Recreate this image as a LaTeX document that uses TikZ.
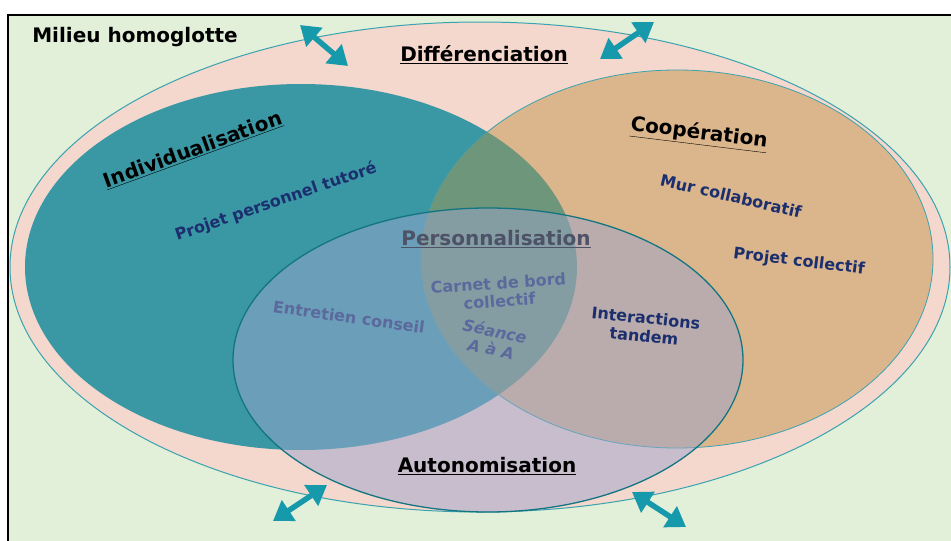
\documentclass[tikz,border=0pt]{standalone}
\usepackage{fontspec}
\setmainfont{DejaVu Sans}
\usetikzlibrary{arrows.meta}
\definecolor{milieu}{HTML}{E2EFD9}
\definecolor{pinkfill}{HTML}{F4D7CD}
\definecolor{tealfill}{HTML}{3A98A5}
\definecolor{orangefill}{HTML}{DBB68C}
\definecolor{overlapfill}{HTML}{6E967A}
\definecolor{lavfill}{RGB}{155,164,205}
\definecolor{rimteal}{HTML}{3AA3B0}
\definecolor{darkrim}{HTML}{137581}
\definecolor{arrowteal}{HTML}{1699AA}
\definecolor{navytext}{HTML}{1B2F6E}
\tikzset{
  heading/.style={font=\bfseries\fontsize{20}{24}\selectfont, inner sep=0pt},
  item/.style={font=\bfseries\fontsize{16}{18}\selectfont, text=navytext, align=center, inner sep=0pt},
  twoway/.style={{Triangle[length=19pt,width=24pt]}-{Triangle[length=19pt,width=24pt]}, line width=5.5pt, draw=arrowteal},
}
\begin{document}
\begin{tikzpicture}[x=1pt,y=-1pt]
\clip (0,0) rectangle (951,541);
\draw[line width=1.5pt, fill=milieu] (8,15) rectangle (980,580);

% differenciation
\draw[fill=pinkfill, draw=rimteal, line width=1pt] (480,267) ellipse [x radius=470pt, y radius=245pt];
% individualisation, cooperation
\fill[tealfill] (301,267) ellipse [x radius=276pt, y radius=183pt];
\draw[fill=orangefill, draw=rimteal, line width=0.8pt] (677,259) ellipse [x radius=256pt, y radius=189pt];
\begin{scope}
\clip (301,267) ellipse [x radius=276pt, y radius=183pt];
\fill[overlapfill] (677,259) ellipse [x radius=256pt, y radius=189pt];
\end{scope}

\node[heading] (milieu) at (135,37) {Milieu homoglotte};
\node[heading] (diff) at (484,55) {\underline{Différenciation}};
\node[heading, rotate=20] (indiv) at (193,150) {\underline{Individualisation}};
\node[item, rotate=19] (ppt) at (276,202) {Projet personnel tutoré};
\node[heading, rotate=-7] (coop) at (699,134) {\underline{Coopération}};
\node[item, rotate=-13] (mur) at (731,196) {Mur collaboratif};
\node[item, rotate=-7] (pcoll) at (799,262) {Projet collectif};

% texts under the autonomisation veil
\node[heading, text=black] (perso) at (496,239) {\underline{Personnalisation}};
\node[item, rotate=4] (carnet) at (499,292) {Carnet de bord\\collectif};
\node[item, rotate=-12, font=\bfseries\itshape\fontsize{16}{18}\selectfont] (seance) at (493,340) {Séance\\A à A};
\node[item, rotate=-8] (entretien) at (349,317) {Entretien conseil};

% autonomisation
\fill[lavfill, opacity=0.5] (488,360) ellipse [x radius=255pt, y radius=152pt];
\draw[darkrim, line width=1.3pt] (488,360) ellipse [x radius=255pt, y radius=152pt];

\node[item, rotate=-6] (tandem) at (645,327) {Interactions\\tandem};
\node[heading] (auto) at (487,466) {\underline{Autonomisation}};

% two-way arrows
\coordinate (a1) at (300,25);
\coordinate (b1) at (348,66);
\coordinate (a2) at (600,59);
\coordinate (b2) at (654,22);
\coordinate (a3) at (273,521);
\coordinate (b3) at (327,485);
\coordinate (a4) at (632,492);
\coordinate (b4) at (686,527);
\draw[twoway] (a1) -- (b1);
\draw[twoway] (a2) -- (b2);
\draw[twoway] (a3) -- (b3);
\draw[twoway] (a4) -- (b4);

\end{tikzpicture}
\end{document}
